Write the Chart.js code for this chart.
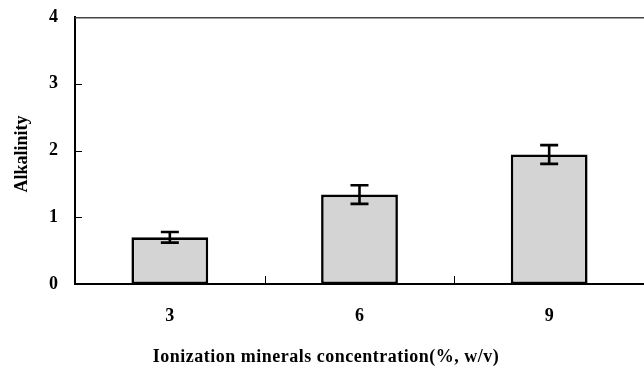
<!DOCTYPE html>
<html>
<head>
<meta charset="utf-8">
<script src="https://cdn.jsdelivr.net/npm/chart.js@4"></script>
<style>
  html, body { margin: 0; padding: 0; background: #fff; overflow: hidden; }
  #wrap { width: 644px; height: 372px; }
</style>
</head>
<body>
<div id="wrap"><canvas id="c" width="644" height="372"></canvas></div>
<script>
const categories = ['3', '6', '9'];
const alkalinity = [0.70, 1.34, 1.94];
const errors = [0.08, 0.14, 0.14];
const yTicks = [0, 1, 2, 3, 4];
const xTitle = 'Ionization minerals concentration(%, w/v)';
const yTitle = 'Alkalinity';

const FONT = '"Liberation Serif", "Times New Roman", serif';

const framePlugin = {
  id: 'frame',
  afterDatasetsDraw(chart) {
    const ctx = chart.ctx;
    const a = chart.chartArea;
    const xs = chart.scales.x, ys = chart.scales.y;
    ctx.save();
    // top border
    ctx.strokeStyle = '#444';
    ctx.lineWidth = 1.5;
    ctx.beginPath();
    ctx.moveTo(a.left, a.top + 0.75);
    ctx.lineTo(a.right, a.top + 0.75);
    ctx.stroke();
    // inward y ticks
    ctx.strokeStyle = '#000';
    ctx.lineWidth = 1;
    yTicks.forEach(v => {
      if (v === yTicks[0] || v === yTicks[yTicks.length - 1]) return;
      const py = Math.round(ys.getPixelForValue(v)) + 0.5;
      ctx.beginPath();
      ctx.moveTo(a.left, py);
      ctx.lineTo(a.left + 7, py);
      ctx.stroke();
    });
    // x ticks between categories
    for (let i = 1; i < categories.length; i++) {
      const px = Math.round((xs.getPixelForValue(i - 1) + xs.getPixelForValue(i)) / 2) + 0.5;
      ctx.beginPath();
      ctx.moveTo(px, a.bottom);
      ctx.lineTo(px, a.bottom - 8);
      ctx.stroke();
    }
    // error bars
    const meta = chart.getDatasetMeta(0);
    ctx.strokeStyle = '#000';
    ctx.lineWidth = 2.6;
    alkalinity.forEach((v, i) => {
      const px = meta.data[i].x;
      const yt = ys.getPixelForValue(v + errors[i]);
      const yb = ys.getPixelForValue(v - errors[i]);
      ctx.beginPath();
      ctx.moveTo(px, yt); ctx.lineTo(px, yb);
      ctx.moveTo(px - 9, yt); ctx.lineTo(px + 9, yt);
      ctx.moveTo(px - 9, yb); ctx.lineTo(px + 9, yb);
      ctx.stroke();
    });
    // titles
    ctx.fillStyle = '#000';
    ctx.font = 'bold 18px ' + FONT;
    ctx.textAlign = 'center';
    ctx.textBaseline = 'middle';
    try { ctx.letterSpacing = '0.5px'; } catch (e) {}
    ctx.fillText(xTitle, 326, 357);
    try { ctx.letterSpacing = '0px'; } catch (e) {}
    ctx.save();
    ctx.translate(22, 154);
    ctx.rotate(-Math.PI / 2);
    ctx.fillText(yTitle, 0, 0);
    ctx.restore();
    ctx.restore();
  }
};

new Chart(document.getElementById('c'), {
  type: 'bar',
  data: {
    labels: categories,
    datasets: [{
      data: alkalinity,
      backgroundColor: '#d4d4d4',
      borderColor: '#000',
      borderWidth: 2.6,
      borderSkipped: false,
      barPercentage: 0.405,
      categoryPercentage: 1.0
    }]
  },
  options: {
    responsive: false,
    animation: false,
    devicePixelRatio: 1,
    layout: { padding: { top: 17, right: 0, left: 0, bottom: 0 } },
    plugins: { legend: { display: false }, tooltip: { enabled: false } },
    scales: {
      x: {
        type: 'category',
        offset: true,
        grid: { display: false, drawTicks: false },
        border: { display: true, color: '#000', width: 2 },
        ticks: { color: '#000', padding: 22, font: { family: FONT, size: 18, weight: 'bold' } },
        afterFit(s) { s.height = 88; s.paddingLeft = 0; s.paddingRight = 0; }
      },
      y: {
        min: 0, max: 4,
        grid: { display: false, drawTicks: false },
        border: { display: true, color: '#000', width: 2 },
        ticks: {
          stepSize: 1, color: '#000', padding: 17,
          font: { family: FONT, size: 18, weight: 'bold' },
          callback: (v) => yTicks.includes(v) ? String(v) : ''
        },
        afterFit(s) { s.width = 75; s.paddingTop = 0; s.paddingBottom = 0; }
      }
    }
  },
  plugins: [framePlugin]
});
</script>
</body>
</html>
